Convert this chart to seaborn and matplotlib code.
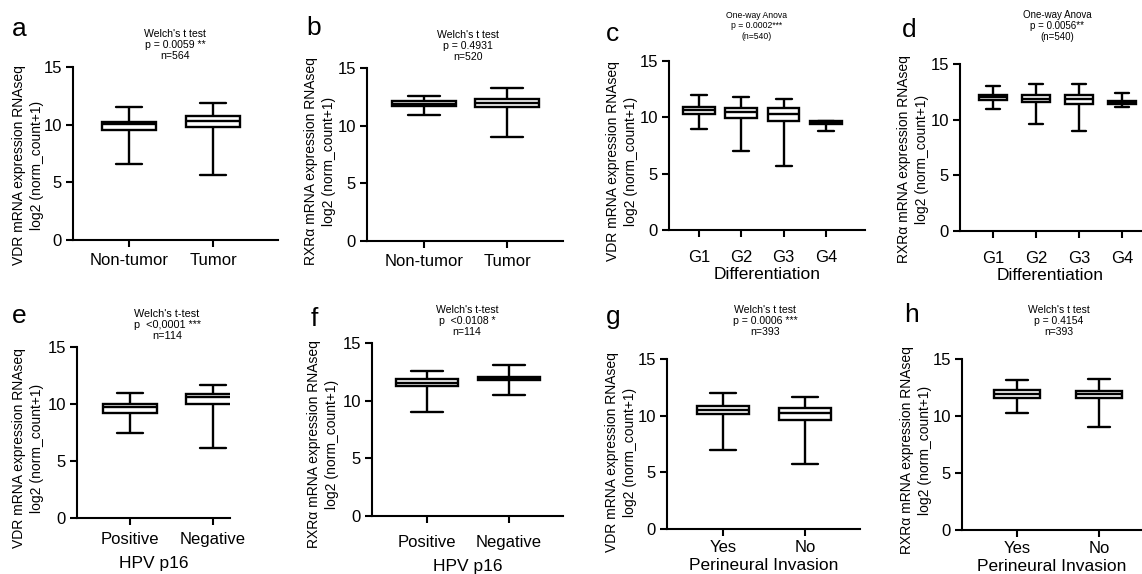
import matplotlib
matplotlib.use("Agg")
import matplotlib.pyplot as plt
import seaborn as sns
import pandas as pd

# five-number summaries: min, q1, median, q3, max
tumor_groups = ["Non-tumor", "Tumor"]
vdr_tumor = [[6.63, 9.52, 10.10, 10.27, 11.54], [5.65, 9.78, 10.33, 10.76, 11.91]]
rxr_tumor = [[10.94, 11.69, 11.92, 12.16, 12.56], [9.02, 11.58, 11.95, 12.27, 13.23]]

grade_groups = ["G1", "G2", "G3", "G4"]
vdr_grade = [[8.93, 10.33, 10.65, 10.92, 12.01], [7.01, 9.91, 10.50, 10.86, 11.78],
             [5.71, 9.70, 10.30, 10.80, 11.66], [8.82, 9.44, 9.53, 9.64, 9.70]]
rxr_grade = [[10.98, 11.76, 12.00, 12.21, 13.02], [9.57, 11.58, 11.88, 12.24, 13.17],
             [9.00, 11.40, 11.82, 12.24, 13.20], [11.10, 11.40, 11.55, 11.64, 12.36]]

hpv_groups = ["Positive", "Negative"]
vdr_hpv = [[7.48, 9.24, 9.71, 10.00, 11.00], [6.13, 10.00, 10.60, 10.89, 11.71]]
rxr_hpv = [[8.99, 11.29, 11.52, 11.90, 12.56], [10.47, 11.75, 11.87, 12.01, 13.08]]

pni_groups = ["Yes", "No"]
vdr_pni = [[6.97, 10.12, 10.53, 10.85, 12.00], [5.71, 9.65, 10.24, 10.71, 11.65]]
rxr_pni = [[10.29, 11.61, 11.90, 12.25, 13.13], [9.04, 11.58, 11.96, 12.22, 13.22]]

titles = {
    "a": "Welch's t test\np = 0.0059 **\nn=564",
    "b": "Welch's t test\np = 0.4931\nn=520",
    "c": "One-way Anova\np = 0.0002***\n(n=540)",
    "d": "One-way Anova\np = 0.0056**\n(n=540)",
    "e": "Welch's t-test\np  <0,0001 ***\nn=114",
    "f": "Welch's t-test\np  <0.0108 *\nn=114",
    "g": "Welch's t test\np = 0.0006 ***\nn=393",
    "h": "Welch's t test\np = 0.4154\nn=393",
}

sns.set_style("ticks")
plt.rcParams['font.family'] = ['Liberation Sans', 'DejaVu Sans']
for k in ["text.color", "axes.labelcolor", "xtick.color", "ytick.color", "axes.edgecolor"]:
    plt.rcParams[k] = "black"

W, H = 1142, 574
fig = plt.figure(figsize=(W / 100, H / 100), dpi=100)

# letter, groups, values, gene, xlabel, axes px (l, t, r, b), first tick px, tick step px,
# title centre px, title size, letter px, box width, tick pad, xlabel pad, ylabel (gap px, shift px)
panels = [
    ("a", tumor_groups, vdr_tumor, "VDR", "", (73, 67, 278, 240), 129, 84, (175, 45), 7.6, (12, 29), 0.64, 4.5, 2, (29, 12)),
    ("b", tumor_groups, rxr_tumor, "RXRα", "", (367, 68, 563, 241), 424, 83, (468, 46), 7.6, (306, 28), 0.77, 4.5, 2, (31, 7)),
    ("c", grade_groups, vdr_grade, "VDR", "Differentiation", (669, 61, 865, 230), 699, 42.3, (757, 26), 6.2, (606, 34), 0.75, 9.5, 1, (31, 16)),
    ("d", grade_groups, rxr_grade, "RXRα", "Differentiation", (960, 64, 1141, 231), 993, 43, (1057, 26), 7.0, (902, 30), 0.65, 9.5, 1, (31, 12)),
    ("e", hpv_groups, vdr_hpv, "VDR", "HPV p16", (77, 347, 230, 518), 130, 83, (167, 325), 7.8, (12, 316), 0.65, 5.0, 6.5, (33, 16)),
    ("f", hpv_groups, rxr_hpv, "RXRα", "HPV p16", (372, 343, 563, 516), 427, 82, (467, 321), 7.6, (311, 319), 0.76, 8.5, 6.5, (33, 15)),
    ("g", pni_groups, vdr_pni, "VDR", "Perineural Invasion", (667, 359, 860, 529), 723, 82, (765, 321), 7.6, (606, 317), 0.63, 3.0, 2, (30, 8)),
    ("h", pni_groups, rxr_pni, "RXRα", "Perineural Invasion", (962, 359, 1141, 530), 1017, 82, (1059, 321), 7.5, (904, 315), 0.55, 3.0, 2, (30, 6)),
]

for (letter, groups, vals, gene, xlab, (l, t, r, b), x0, step, (tx, ty), tsize, (lx, ly),
     bw, tpad, xpad, (ygap, yshift)) in panels:
    ax = fig.add_axes([l / W, 1 - b / H, (r - l) / W, (b - t) / H])
    rows = []
    for g, v in zip(groups, vals):
        for y in v:
            rows.append({"group": g, "value": y})
    df = pd.DataFrame(rows)
    sns.boxplot(data=df, x="group", y="value", order=groups, whis=(0, 100), width=bw,
                color="white", linecolor="black", linewidth=1.7, fliersize=0, ax=ax)
    ax.set_xlim((l - x0) / step, (r - x0) / step)
    ax.set_ylim(0, 15)
    ax.set_yticks([0, 5, 10, 15])
    sns.despine(ax=ax)
    for s in ["left", "bottom"]:
        ax.spines[s].set_linewidth(1.5)
    ax.tick_params(width=1.5, length=5, labelsize=12, pad=3)
    ax.tick_params(axis="x", pad=tpad)
    ax.set_ylabel(f"{gene} mRNA expression RNAseq\nlog2 (norm_count+1)", fontsize=10,
                  linespacing=1.35)
    ax.yaxis.set_label_coords(-ygap / (r - l), 0.5 - yshift / (b - t))
    ax.set_xlabel(xlab, fontsize=12.5, labelpad=xpad)
    fig.text(tx / W, 1 - ty / H, titles[letter], fontsize=tsize, ha="center", va="center",
             linespacing=1.15)
    fig.text(lx / W, 1 - ly / H, letter, fontsize=19, ha="left", va="center")

plt.savefig("out.png", dpi=100)
